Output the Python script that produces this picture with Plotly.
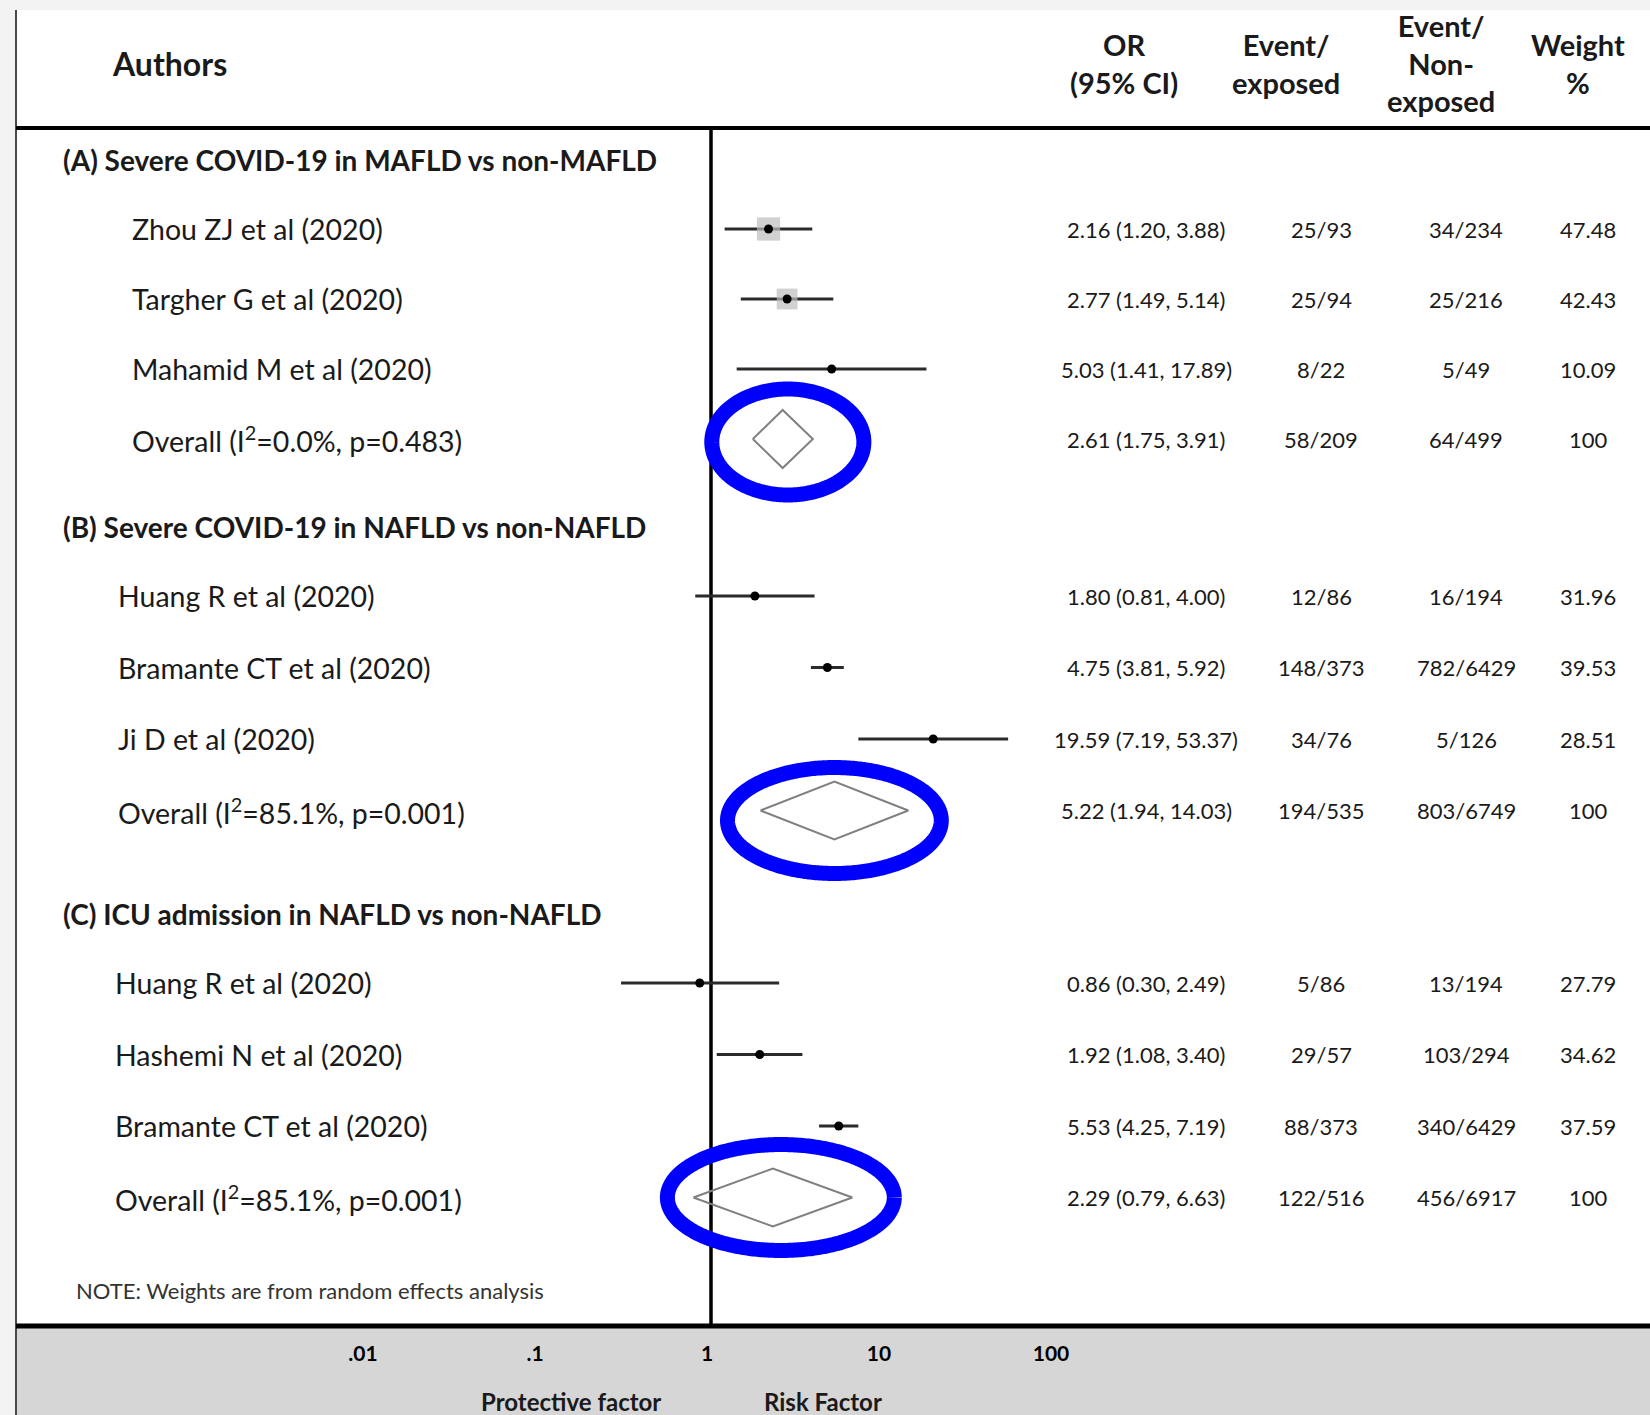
import numpy as np
import plotly.graph_objects as go

# ---------------- data ----------------
section_titles = [
    "(A) Severe COVID-19 in MAFLD vs non-MAFLD",
    "(B) Severe COVID-19 in NAFLD vs non-NAFLD",
    "(C) ICU admission in NAFLD vs non-NAFLD",
]

a_labels = ["Zhou ZJ et al (2020)", "Targher G et al (2020)", "Mahamid M et al (2020)",
            "Overall (I<sup>2</sup>=0.0%, p=0.483)"]
a_or = [2.16, 2.77, 5.03, 2.61]
a_lo = [1.20, 1.49, 1.41, 1.75]
a_hi = [3.88, 5.14, 17.89, 3.91]
a_event_exp = ["25/93", "25/94", "8/22", "58/209"]
a_event_non = ["34/234", "25/216", "5/49", "64/499"]
a_weight = [47.48, 42.43, 10.09, 100]

b_labels = ["Huang R et al (2020)", "Bramante CT et al (2020)", "Ji D et al (2020)",
            "Overall (I<sup>2</sup>=85.1%, p=0.001)"]
b_or = [1.80, 4.75, 19.59, 5.22]
b_lo = [0.81, 3.81, 7.19, 1.94]
b_hi = [4.00, 5.92, 53.37, 14.03]
b_event_exp = ["12/86", "148/373", "34/76", "194/535"]
b_event_non = ["16/194", "782/6429", "5/126", "803/6749"]
b_weight = [31.96, 39.53, 28.51, 100]

c_labels = ["Huang R et al (2020)", "Hashemi N et al (2020)", "Bramante CT et al (2020)",
            "Overall (I<sup>2</sup>=85.1%, p=0.001)"]
c_or = [0.86, 1.92, 5.53, 2.29]
c_lo = [0.30, 1.08, 4.25, 0.79]
c_hi = [2.49, 3.40, 7.19, 6.63]
c_event_exp = ["5/86", "29/57", "88/373", "122/516"]
c_event_non = ["13/194", "103/294", "340/6429", "456/6917"]
c_weight = [27.79, 34.62, 37.59, 100]

header_labels = ["OR<br>(95% CI)", "Event/<br>exposed", "Event/<br>Non-<br>exposed", "Weight<br>%"]
tick_vals = [0.01, 0.1, 1, 10, 100]
tick_text = [".01", ".1", "1", "10", "100"]
note_text = "NOTE: Weights are from random effects analysis"

sections = [
    (a_labels, a_or, a_lo, a_hi, a_event_exp, a_event_non, a_weight),
    (b_labels, b_or, b_lo, b_hi, b_event_exp, b_event_non, b_weight),
    (c_labels, c_or, c_lo, c_hi, c_event_exp, c_event_non, c_weight),
]

# ---------------- layout constants ----------------
W, H = 1650, 1415
X_ONE_PX = 711          # pixel column of OR = 1
PX_PER_DECADE = 172
x_range = [-X_ONE_PX / PX_PER_DECADE, (W - X_ONE_PX) / PX_PER_DECADE]

HEADER_LINE_Y = 128
FOOTER_LINE_Y = 1326
SECTION_TOP = [160, 527, 914]
FIRST_ROW_GAP = 69
ROW_PITCH = [70, 71.5, 71.5]
LABEL_INDENT = [130, 116, 113]
TITLE_INDENT = 61
COL_X = [1146, 1321, 1466, 1588]
HEADER_X = [1124, 1286, 1441, 1578]
DIAMOND_HALF_H = 29

FONT = "Lato, 'Open Sans', sans-serif"
INK = "#1a1a1a"

fig = go.Figure()

# page frame: white table body, grey axis band
shapes = [
    dict(type="rect", xref="paper", yref="paper", x0=17 / W, x1=1, y0=1 - FOOTER_LINE_Y / H, y1=1 - 10 / H,
         fillcolor="white", line_width=0, layer="below"),
    dict(type="rect", xref="paper", yref="paper", x0=17 / W, x1=1, y0=0, y1=1 - FOOTER_LINE_Y / H,
         fillcolor="#d6d6d6", line_width=0, layer="below"),
    dict(type="line", xref="paper", yref="paper", x0=16 / W, x1=16 / W, y0=0, y1=1 - 10 / H,
         line=dict(color="#4a4a4a", width=2)),
    dict(type="line", xref="paper", yref="paper", x0=16 / W, x1=1,
         y0=1 - HEADER_LINE_Y / H, y1=1 - HEADER_LINE_Y / H, line=dict(color="black", width=4)),
    dict(type="line", xref="paper", yref="paper", x0=16 / W, x1=1,
         y0=1 - FOOTER_LINE_Y / H, y1=1 - FOOTER_LINE_Y / H, line=dict(color="black", width=5)),
]

annotations = []


def text(x_px, y, s, size, bold=False, align="left", color=INK):
    annotations.append(dict(
        x=x_px / W, xref="paper", y=y, yref="y", text=f"<b>{s}</b>" if bold else s,
        showarrow=False, xanchor=align, yanchor="middle", align=align,
        font=dict(family=FONT, size=size, color=color)))


# header
text(110, 63, "Authors", 32, bold=True)
for hx, hl in zip(HEADER_X, header_labels):
    text(hx, 63, hl, 29, bold=True, align="center")

# reference line at OR = 1
fig.add_trace(go.Scatter(x=[1, 1], y=[HEADER_LINE_Y, FOOTER_LINE_Y], mode="lines",
                         line=dict(color="black", width=3.5), hoverinfo="skip"))

ring_specs = []
for s, (labels, ors, los, his, ev_e, ev_n, wts) in enumerate(sections):
    top = SECTION_TOP[s]
    text(TITLE_INDENT, top, section_titles[s], 28, bold=True)
    ys = [top + FIRST_ROW_GAP + k * ROW_PITCH[s] for k in range(len(labels))]
    n_studies = len(labels) - 1

    for k in range(len(labels)):
        text(LABEL_INDENT[s], ys[k], labels[k], 28.5)
        text(COL_X[0], ys[k], f"{ors[k]:.2f} ({los[k]:.2f}, {his[k]:.2f})", 22, align="center")
        text(COL_X[1], ys[k], ev_e[k], 22, align="center")
        text(COL_X[2], ys[k], ev_n[k], 22, align="center")
        w = wts[k]
        text(COL_X[3], ys[k], f"{w:g}" if w == 100 else f"{w:.2f}", 22, align="center")

    # confidence intervals
    cx, cy = [], []
    for k in range(n_studies):
        cx += [los[k], his[k], None]
        cy += [ys[k], ys[k], None]
    fig.add_trace(go.Scatter(x=cx, y=cy, mode="lines", line=dict(color="#2b2b2b", width=3),
                             hoverinfo="skip"))

    # weight boxes (first panel shows them)
    if s == 0:
        fig.add_trace(go.Scatter(
            x=ors[:n_studies], y=ys[:n_studies], mode="markers",
            marker=dict(symbol="square", size=[0.49 * w for w in wts[:n_studies]],
                        color="#bdbdbd", line_width=0), hoverinfo="skip"))

    # point estimates
    fig.add_trace(go.Scatter(x=ors[:n_studies], y=ys[:n_studies], mode="markers",
                             marker=dict(symbol="circle", size=9, color="black"),
                             hoverinfo="skip"))

    # pooled diamond
    o, lo, hi, yo = ors[-1], los[-1], his[-1], ys[-1]
    fig.add_trace(go.Scatter(
        x=[lo, o, hi, o, lo], y=[yo, yo - DIAMOND_HALF_H, yo, yo + DIAMOND_HALF_H, yo],
        mode="lines", line=dict(color="#808080", width=2), fill="toself",
        fillcolor="rgba(255,255,255,0)", hoverinfo="skip"))
    ring_specs.append((lo, hi, yo))

# blue highlight rings around the pooled estimates
ring_pad = [46, 33, 34]
ring_shift_x = [5, 0, 8]
ring_shift_y = [3, 10, 0]
t = np.linspace(0, 2 * np.pi, 361)
for i, (lo, hi, yo) in enumerate(ring_specs):
    c_log = (np.log10(lo) + np.log10(hi)) / 2 + ring_shift_x[i] / PX_PER_DECADE
    rx = (np.log10(hi) - np.log10(lo)) / 2 + ring_pad[i] / PX_PER_DECADE
    fig.add_trace(go.Scatter(
        x=10 ** (c_log + rx * np.cos(t)), y=yo + ring_shift_y[i] + 53 * np.sin(t),
        mode="lines", line=dict(color="#0000ff", width=15, simplify=False),
        hoverinfo="skip"))

# footer note and axis captions
text(74, 1290, note_text, 22, color="#333333")
text(543 * 1650 / 1568, 1401, "Protective factor", 24, bold=True, align="center")
text(782 * 1650 / 1568, 1401, "Risk Factor", 24, bold=True, align="center")

fig.update_layout(
    width=W, height=H,
    margin=dict(l=0, r=0, t=0, b=0),
    paper_bgcolor="#f3f3f3",
    plot_bgcolor="rgba(0,0,0,0)",
    showlegend=False,
    shapes=shapes,
    annotations=annotations,
    xaxis=dict(type="log", range=x_range, tickvals=tick_vals, ticktext=tick_text,
               tickfont=dict(family=FONT, size=21, color="black", weight="bold"),
               showgrid=False, zeroline=False, showline=False, ticks="",
               anchor="free", position=1 - FOOTER_LINE_Y / H, ticklabelstandoff=13,
               ticklabelshift=-4, fixedrange=True),
    yaxis=dict(range=[H, 0], visible=False, showgrid=False, zeroline=False, fixedrange=True),
)

fig.write_html("out.html")
